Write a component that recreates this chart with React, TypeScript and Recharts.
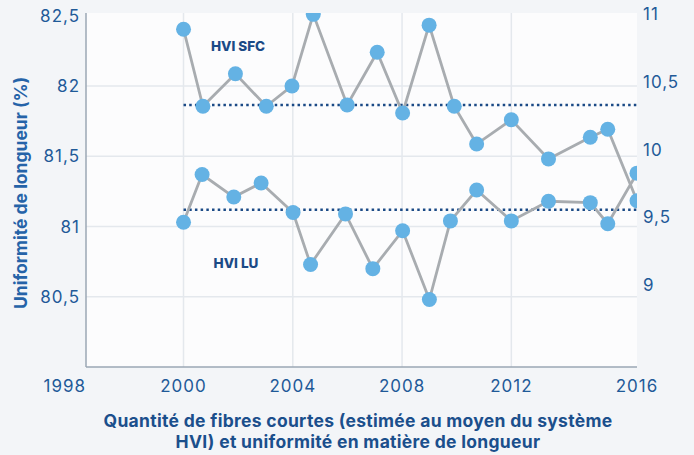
import React from 'react';
import { LineChart, Line, XAxis, YAxis, CartesianGrid, ReferenceLine } from 'recharts';

// Short fibre content (HVI SFC), right axis (%)
const sfcYears = [2000, 2000.71, 2001.9, 2003.03, 2003.97, 2004.75, 2005.99, 2007.09, 2008.02, 2008.99, 2009.91, 2010.73, 2012, 2013.36, 2014.89, 2015.53, 2016.6];
const sfcValues = [10.89, 10.32, 10.56, 10.32, 10.47, 11.0, 10.33, 10.72, 10.27, 10.92, 10.32, 10.04, 10.22, 9.93, 10.09, 10.15, 9.62];
const SFC_MEAN = 10.33;

// Length uniformity (HVI LU), left axis (%)
const luYears = [2000, 2000.68, 2001.84, 2002.84, 2004.01, 2004.65, 2005.93, 2006.93, 2008.02, 2009.0, 2009.77, 2010.73, 2012, 2013.36, 2014.89, 2015.53, 2016.6];
const luValues = [81.03, 81.37, 81.21, 81.31, 81.1, 80.73, 81.09, 80.7, 80.97, 80.48, 81.04, 81.26, 81.04, 81.18, 81.17, 81.02, 81.38];
const LU_MEAN = 81.12;

const X_MIN = 1996.43;
const X_MAX = 2016.6;
const xTickValues = [X_MIN, 2000, 2004, 2008, 2012, X_MAX];
const xTickLabels = ['1998', '2000', '2004', '2008', '2012', '2016'];
const xGridValues = [2000, 2004, 2008, 2012];
const leftTicks = [80.5, 81, 81.5, 82, 82.5];
const leftGridValues = [80.5, 81, 81.5, 82];
const rightTicks = [9, 9.5, 10, 10.5, 11];

const sfcData = sfcYears.map((year, i) => ({ year, v: sfcValues[i] }));
const luData = luYears.map((year, i) => ({ year, v: luValues[i] }));

const TICK_COLOR = '#1f5a98';
const FONT = 'Inter, "Open Sans", sans-serif';
const fmt = (v: number) => String(v).replace('.', ',');

const XTick = (props: any) => {
  const { x, y, payload, index } = props;
  const isFirst = index === 0;
  return (
    <text x={x} y={y} dy="0.71em" textAnchor={isFirst ? 'end' : 'middle'} fill={TICK_COLOR} fontSize={17} fontFamily={FONT} letterSpacing={1}>
      {xTickLabels[xTickValues.indexOf(payload.value)]}
    </text>
  );
};

const dotStyle = { r: 7.5, fill: '#64b2e4', stroke: 'none', strokeWidth: 0 };

export default function App() {
  return (
    <div style={{ position: 'absolute', left: 0, top: 0, width: 694, height: 455, background: '#f3f5f8', fontFamily: FONT }}>
      <LineChart width={694} height={455} margin={{ top: 13, right: 0, bottom: 58, left: 0 }}>
        <CartesianGrid
          fill="#fcfcfd"
          stroke="#e4e8ed"
          strokeWidth={1.5}
          horizontalValues={leftGridValues}
          verticalValues={xGridValues}
          yAxisId="left"
        />
        <XAxis
          type="number"
          dataKey="year"
          domain={[X_MIN, X_MAX]}
          ticks={xTickValues}
          interval={0}
          tick={<XTick />}
          tickLine={false}
          tickMargin={7}
          axisLine={{ stroke: '#9ba7b4', strokeWidth: 1.5 }}
          height={30}
          allowDataOverflow
        />
        <YAxis
          yAxisId="left"
          type="number"
          domain={[80, 82.52]}
          ticks={leftTicks}
          interval={0}
          tickFormatter={fmt}
          tick={{ fill: TICK_COLOR, fontSize: 17, letterSpacing: 1 }}
          tickLine={false}
          tickMargin={0}
          axisLine={{ stroke: '#9ba7b4', strokeWidth: 1.5 }}
          width={86}
          allowDataOverflow
        />
        <YAxis
          yAxisId="right"
          orientation="right"
          type="number"
          domain={[8.39, 11.01]}
          ticks={rightTicks}
          interval={0}
          tickFormatter={fmt}
          tick={{ fill: TICK_COLOR, fontSize: 17, textAnchor: 'start', letterSpacing: 1 }}
          tickLine={false}
          tickMargin={0}
          axisLine={false}
          width={57}
          allowDataOverflow
        />
        <ReferenceLine
          yAxisId="right"
          segment={[{ x: 2000, y: SFC_MEAN }, { x: X_MAX, y: SFC_MEAN }]}
          stroke="#1b4a86"
          strokeWidth={2.5}
          strokeDasharray="2.5 3.2"
        />
        <ReferenceLine
          yAxisId="left"
          segment={[{ x: 2000, y: LU_MEAN }, { x: X_MAX, y: LU_MEAN }]}
          stroke="#1b4a86"
          strokeWidth={2.5}
          strokeDasharray="2.5 3.2"
        />
        <Line
          yAxisId="right"
          data={sfcData}
          dataKey="v"
          type="linear"
          stroke="#a8acb0"
          strokeWidth={2.8}
          dot={dotStyle}
          activeDot={false}
          isAnimationActive={false}
        />
        <Line
          yAxisId="left"
          data={luData}
          dataKey="v"
          type="linear"
          stroke="#a8acb0"
          strokeWidth={2.8}
          dot={dotStyle}
          activeDot={false}
          isAnimationActive={false}
        />
      </LineChart>
      <div style={{ position: 'absolute', left: 238, top: 46, transform: 'translate(-50%, -50%)', color: '#1b4a86', fontWeight: 800, fontSize: 13.5, whiteSpace: 'nowrap' }}>HVI SFC</div>
      <div style={{ position: 'absolute', left: 236, top: 263, transform: 'translate(-50%, -50%)', color: '#1b4a86', fontWeight: 800, fontSize: 13.5, whiteSpace: 'nowrap' }}>HVI LU</div>
      <div style={{ position: 'absolute', left: 20, top: 193, transform: 'translate(-50%, -50%) rotate(-90deg)', color: '#2563a8', fontWeight: 700, fontSize: 17.5, whiteSpace: 'nowrap' }}>Uniformité de longueur (%)</div>
      <div style={{ position: 'absolute', left: 0, width: 716, top: 410, textAlign: 'center', color: '#1b4f8c', fontWeight: 700, fontSize: 17.5, lineHeight: '21px', letterSpacing: 0.3 }}>
        Quantité de fibres courtes (estimée au moyen du système<br />HVI) et uniformité en matière de longueur
      </div>
    </div>
  );
}
